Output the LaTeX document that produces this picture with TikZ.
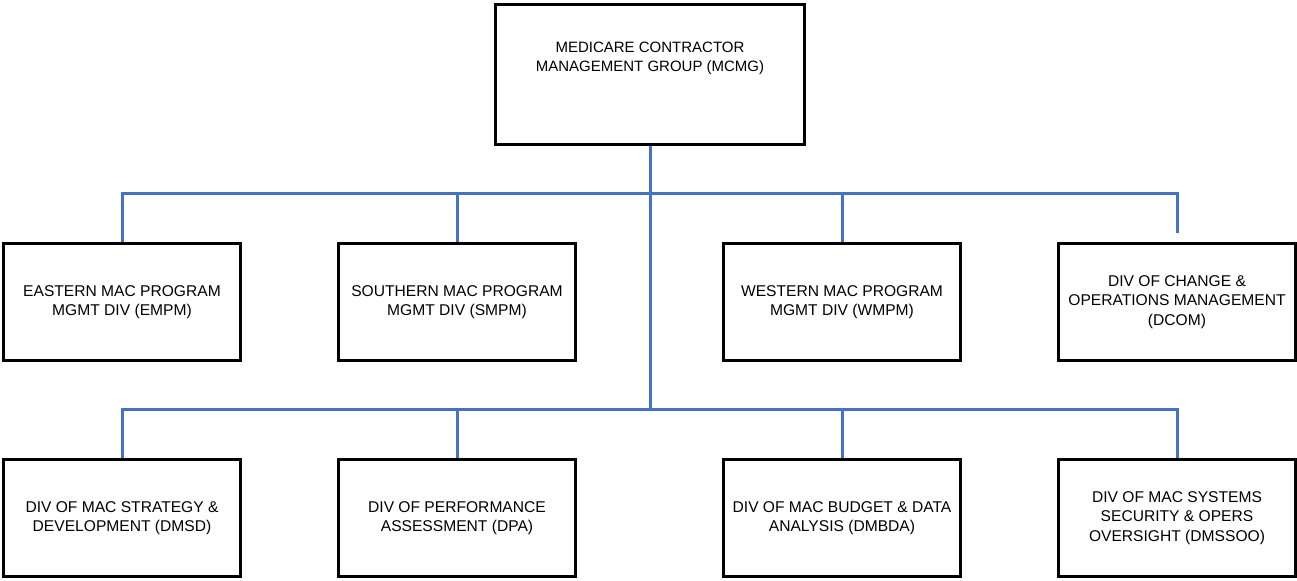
\documentclass[tikz,border=0pt]{standalone}
\usepackage{fontspec}
\setmainfont{Liberation Sans}
\usetikzlibrary{positioning, calc}

\definecolor{linkblue}{RGB}{68,114,196}

\begin{document}
\begin{tikzpicture}[
    x=0.5pt, y=-0.5pt,
    node distance=48pt,
    head/.style={rectangle, draw=black, line width=1.3pt, minimum width=154.7pt, minimum height=70.2pt, align=center, inner sep=2pt, font=\fontsize{7.5}{9.5}\selectfont},
    unit/.style={rectangle, draw=black, line width=1.3pt, minimum width=118.7pt, minimum height=58.7pt, align=center, inner sep=2pt, font=\fontsize{7.8}{9.75}\selectfont},
    link/.style={draw=linkblue, line width=1.5pt}]

    \useasboundingbox (0,0) rectangle (1297,581);

    \node[head] (mcmg) at (650,74.5) {MEDICARE CONTRACTOR\\MANAGEMENT GROUP (MCMG)\\[8pt]~};

    % first row
    \node[unit, below=of mcmg, xshift=-264pt] (empm) {EASTERN MAC PROGRAM\\MGMT DIV (EMPM)};
    \node[unit, right=47.5pt of empm] (smpm) {SOUTHERN MAC PROGRAM\\MGMT DIV (SMPM)};
    \node[unit, right=72.5pt of smpm] (wmpm) {WESTERN MAC PROGRAM\\MGMT DIV (WMPM)};
    \node[unit, right=47.5pt of wmpm] (dcom) {DIV OF CHANGE \&\\OPERATIONS MANAGEMENT\\(DCOM)};

    % second row
    \node[unit, below=of empm] (dmsd) {DIV OF MAC STRATEGY \&\\DEVELOPMENT (DMSD)};
    \node[unit, below=of smpm] (dpa) {DIV OF PERFORMANCE\\ASSESSMENT (DPA)};
    \node[unit, below=of wmpm] (dmbda) {DIV OF MAC BUDGET \& DATA\\ANALYSIS (DMBDA)};
    \node[unit, below=of dcom] (dmssoo) {DIV OF MAC SYSTEMS\\SECURITY \& OPERS\\OVERSIGHT (DMSSOO)};

    \coordinate (bus1) at ($(mcmg.south)!0.5!(mcmg.south |- empm.north)$);
    \coordinate (bus2) at ($(mcmg.south |- empm.south)!0.5!(mcmg.south |- dmsd.north)$);

    \draw[link] (mcmg.south) -- (bus2);
    \draw[link, shorten >=4.5pt] (empm.north) |- (bus1) -| (dcom.north);
    \draw[link] (smpm.north) -- (smpm.north |- bus1);
    \draw[link] (wmpm.north) -- (wmpm.north |- bus1);
    \draw[link] (dmsd.north) |- (bus2) -| (dmssoo.north);
    \draw[link] (dpa.north) -- (dpa.north |- bus2);
    \draw[link] (dmbda.north) -- (dmbda.north |- bus2);
\end{tikzpicture}
\end{document}
